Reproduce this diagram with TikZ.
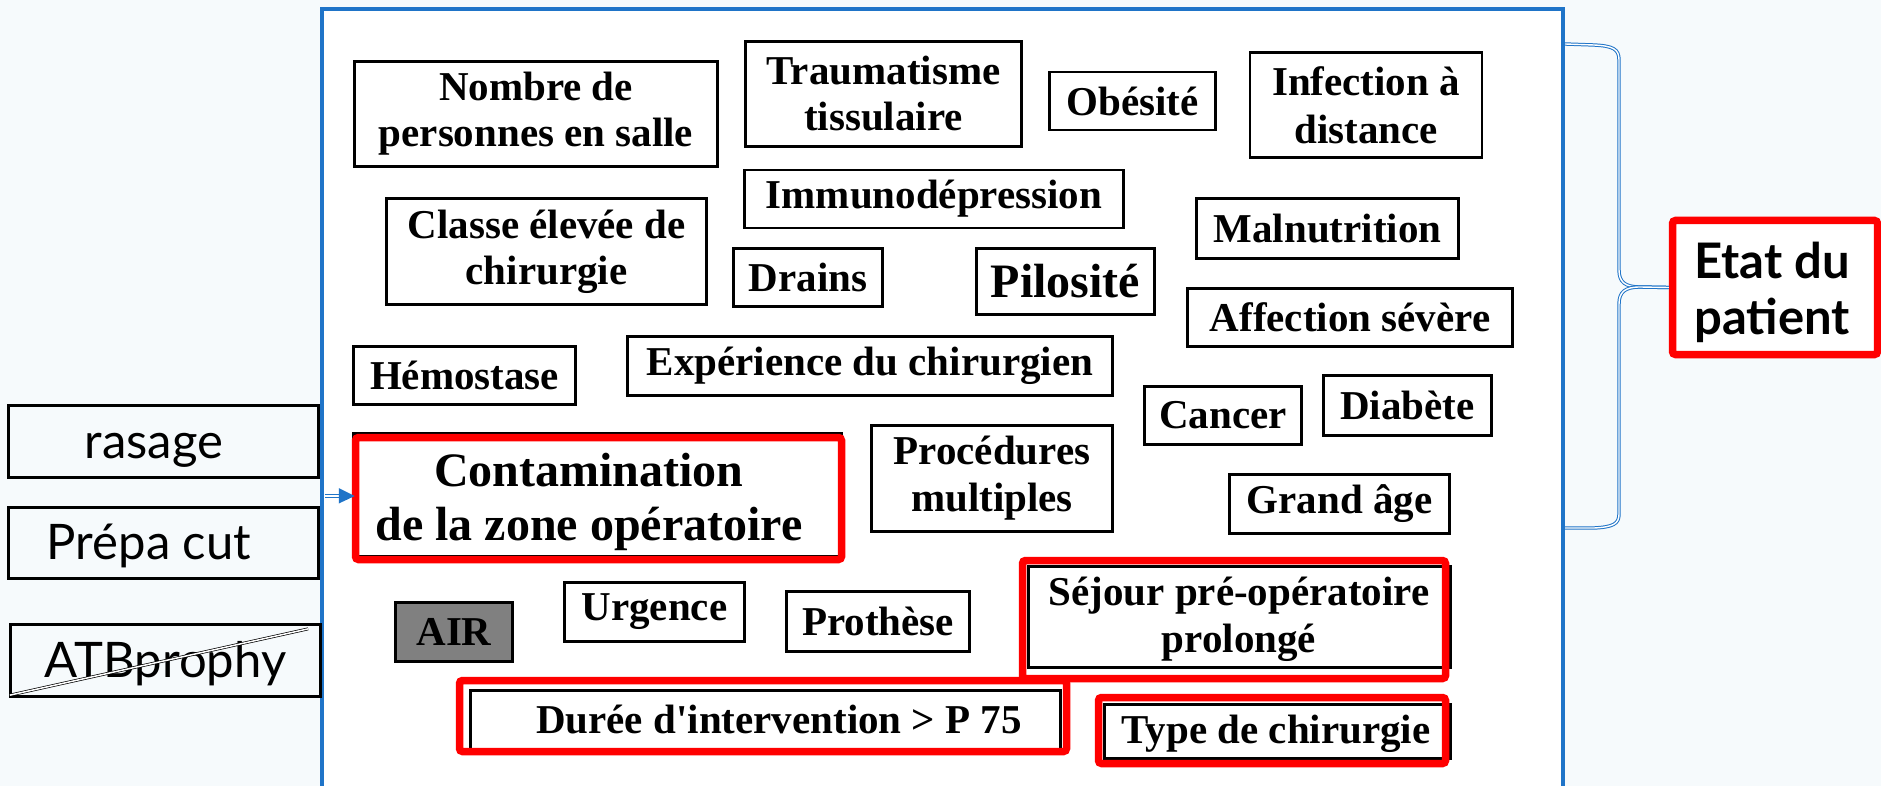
\documentclass[tikz,border=0pt]{standalone}
\usepackage{fontspec}
\setmainfont{Liberation Serif}[Ligatures=TeXOff]
\newfontfamily\lato{Lato}
\usetikzlibrary{calc}
\definecolor{frameblue}{RGB}{31,116,200}
\definecolor{bgcol}{RGB}{246,250,252}
\definecolor{airgray}{RGB}{128,128,128}
\tikzset{
 fact/.style={draw=black, line width=2.6pt, fill=white, inner sep=0pt, align=center, font=\bfseries\fontsize{41}{46}\selectfont},
 redframe/.style={draw=red, line width=7.5pt, rounded corners=3pt, inner sep=0pt},
 redtext/.style={inner sep=0pt, align=center, font=\bfseries\fontsize{41}{47}\selectfont},
 oldbox/.style={draw=black, line width=2.6pt, fill=white},
 sidebox/.style={draw=black, line width=3.3pt, inner sep=0pt, text height=38pt, text depth=5pt, font=\lato\fontsize{49}{56}\selectfont},
 dbl/.style={draw=frameblue, double=white, double distance=1.4pt, line width=1pt},
 strike/.style={draw=black, double=white, double distance=1.5pt, line width=0.7pt},
 bigframe/.style={draw=frameblue, line width=4pt, fill=white, inner sep=0pt},
}
\begin{document}
\begin{tikzpicture}[x=1pt,y=-1pt]
\useasboundingbox (0,0) rectangle (1881,786);
\clip (0,0) rectangle (1881,786);
\fill[bgcol] (0,0) rectangle (1881,786);

% main frame
\node[bigframe, minimum width=1241pt, minimum height=779pt] (frame) at (942.5,398.5) {};

% black factor boxes
\node[fact, minimum width=363pt, minimum height=105pt] (nombre) at (536,114) {Nombre de\\personnes en salle};
\node[fact, minimum width=276pt, minimum height=105pt] (trauma) at (883.5,94) {Traumatisme\\tissulaire};
\node[fact, minimum width=166pt, minimum height=58pt] (obesite) at (1132.5,101) {Obésité};
\node[fact, minimum width=232pt, minimum height=105pt, font=\bfseries\fontsize{41}{48}\selectfont] (infection) at (1366,105) {Infection à\\distance};
\node[fact, minimum width=320pt, minimum height=106pt] (classe) at (546.5,251.5) {Classe élevée de\\chirurgie};
\node[fact, minimum width=379pt, minimum height=58pt] (immuno) at (934,199) {Immunodépression};
\node[fact, minimum width=149pt, minimum height=58pt] (drains) at (808,277.5) {Drains};
\node[fact, minimum width=178pt, minimum height=66pt, font=\bfseries\fontsize{48}{54}\selectfont] (pilosite) at (1065.5,281.5) {Pilosité};
\node[fact, minimum width=262pt, minimum height=60pt] (malnut) at (1327.5,228.5) {Malnutrition};
\node[fact, minimum width=325pt, minimum height=58pt] (affection) at (1350,317.5) {Affection sévère};
\node[fact, minimum width=222pt, minimum height=58pt] (hemostase) at (464.5,375.5) {Hémostase};
\node[fact, minimum width=485pt, minimum height=59pt] (experience) at (870,366) {Expérience du chirurgien};
\node[fact, minimum width=157pt, minimum height=58pt] (cancer) at (1223,415.5) {Cancer};
\node[fact, minimum width=168pt, minimum height=60pt] (diabete) at (1407.5,405.5) {Diabète};
\node[fact, minimum width=241pt, minimum height=106pt, font=\bfseries\fontsize{41}{47}\selectfont] (procedures) at (992,478.5) {Procédures\\multiples};
\node[fact, minimum width=220pt, minimum height=59pt] (grandage) at (1339.5,504) {Grand âge};
\node[fact, fill=airgray, minimum width=117pt, minimum height=59pt] (air) at (454,632) {AIR};
\node[fact, minimum width=180pt, minimum height=59pt] (urgence) at (654.5,612) {Urgence};
\node[fact, minimum width=183pt, minimum height=60pt] (prothese) at (878,621.5) {Prothèse};

% highlighted factors (black original box, red highlight, text)
\draw[oldbox] (353.3,433.3) rectangle (842,556);
\node[redframe, minimum width=486pt, minimum height=122pt] (contam) at (598.5,498.5) {};
\node[redtext, font=\bfseries\fontsize{48}{54}\selectfont] (contamtxt) at (589,502) {Contamination\\de la zone opératoire};

\draw[oldbox] (1028.3,566.3) rectangle (1450.7,667.7);
\node[redframe, minimum width=423pt, minimum height=118pt] (sejour) at (1234,619.5) {};
\node[redtext] (sejourtxt) at (1239,619) {Séjour pré-opératoire\\prolongé};

\draw[oldbox] (470.3,690.3) rectangle (1060.7,749);
\node[redframe, minimum width=607pt, minimum height=71pt] (duree) at (763,716) {};
\node[redtext, anchor=base] (dureetxt) at (779,733) {Durée d'intervention > P 75};

\draw[oldbox] (1104.3,704.3) rectangle (1450.7,758.7);
\node[redframe, minimum width=347pt, minimum height=66pt] (type) at (1272,730.5) {};
\node[redtext, anchor=base] (typetxt) at (1276,743) {Type de chirurgie};

% side boxes
\node[sidebox, minimum width=310pt, minimum height=72pt] (rasage) at (163.5,441.5) {rasage\hspace*{19pt}};
\node[sidebox, minimum width=310pt, minimum height=71pt] (prepa) at (163.5,543) {Prépa cut\hspace*{29pt}};
\node[sidebox, minimum width=310pt, minimum height=72pt] (atb) at (165.5,660.5) {ATBprophy};
\draw[strike] ($(atb.south west)+(1,-3)$) -- ($(atb.north east)+(-14,6)$);

% arrow into contamination
\coordinate (arrs) at (324.5,496);
\draw[dbl] (arrs) -- ($(contam.west)+(-10,-2.5)$);
\fill[frameblue] ($(contam.west)+(3,-2.5)$) -- ++(-16,-8) -- ++(0,15.5) -- cycle;

% Etat du patient
\node[redframe, fill=white, minimum width=205pt, minimum height=134pt] (etat) at (1775,287.5) {};
\node[anchor=west, inner sep=0pt, align=left, font=\lato\bfseries\fontsize{49}{56}\selectfont] (etattxt) at (1694,292) {Etat du\\patient};

% brace
\coordinate (bt) at (1565,44);
\coordinate (bb) at (1565,528);
\draw[dbl] (bt) -- (1594,45) .. controls (1613,46) and (1619,49) .. (1619,60) -- (1619,270) .. controls (1619,282) and (1625,287) .. (1640,287) -- (etat.west);
\draw[dbl] (etat.west) -- (1640,287) .. controls (1625,287) and (1619,292) .. (1619,304) -- (1619,514) .. controls (1619,524) and (1613,527) .. (1594,528) -- (bb);
\end{tikzpicture}
\end{document}
